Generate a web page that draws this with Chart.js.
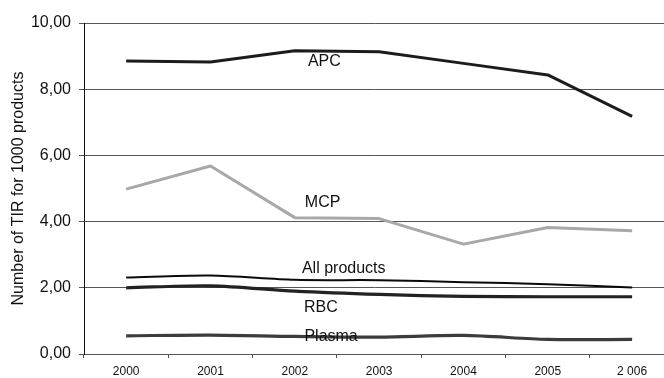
<!DOCTYPE html>
<html>
<head>
<meta charset="utf-8">
<script src="https://cdn.jsdelivr.net/npm/chart.js@4/dist/chart.umd.min.js"></script>
<style>
  html, body { margin: 0; padding: 0; background: #ffffff; }
  #wrap { width: 664px; height: 378px; }
</style>
</head>
<body>
<div id="wrap"><canvas id="c" width="664" height="378"></canvas></div>
<script>
// ---- data ----
const years = ['2000', '2001', '2002', '2003', '2004', '2005', '2 006'];
const apc = [8.85, 8.82, 9.16, 9.13, 8.78, 8.43, 7.18];
const mcp = [4.98, 5.68, 4.12, 4.09, 3.32, 3.82, 3.72];
const allProducts = [2.31, 2.37, 2.24, 2.23, 2.17, 2.11, 2.01];
const rbc = [2.00, 2.06, 1.90, 1.80, 1.74, 1.73, 1.73];
const plasma = [0.55, 0.57, 0.53, 0.51, 0.56, 0.44, 0.44];
const yTicks = [0, 2, 4, 6, 8, 10];
const yTitle = 'Number of TIR for 1000 products';
const seriesNames = ['APC', 'MCP', 'All products', 'RBC', 'Plasma'];

const toPoints = arr => arr.map((v, i) => ({ x: i, y: v }));
const FONT = "'Liberation Sans', Arial, sans-serif";

// in-chart series labels (placed in data units)
const seriesLabels = [
  { text: seriesNames[0], x: 2.35, y: 8.83 },
  { text: seriesNames[1], x: 2.33, y: 4.56 },
  { text: seriesNames[2], x: 2.58, y: 2.57 },
  { text: seriesNames[3], x: 2.31, y: 1.41 },
  { text: seriesNames[4], x: 2.43, y: 0.52 }
];

const labelPlugin = {
  id: 'seriesLabels',
  afterDatasetsDraw(chart) {
    const ctx = chart.ctx;
    const xs = chart.scales.x, ys = chart.scales.y;
    ctx.save();
    ctx.font = '16px ' + FONT;
    ctx.fillStyle = '#111';
    ctx.textAlign = 'center';
    ctx.textBaseline = 'middle';
    seriesLabels.forEach(l => {
      ctx.fillText(l.text, xs.getPixelForValue(l.x), ys.getPixelForValue(l.y));
    });
    ctx.restore();
  }
};

const mk = (label, data, color, width, tension) => ({
  label, data: toPoints(data), borderColor: color, backgroundColor: color,
  borderWidth: width, pointRadius: 0, tension, fill: false,
  borderCapStyle: 'butt', borderJoinStyle: 'round'
});

new Chart(document.getElementById('c'), {
  type: 'line',
  data: {
    datasets: [
      mk(seriesNames[0], apc, '#1c1c1c', 3, 0),
      mk(seriesNames[1], mcp, '#a8a8a8', 3, 0),
      mk(seriesNames[2], allProducts, '#0a0a0a', 2, 0.3),
      mk(seriesNames[3], rbc, '#222222', 3.2, 0.3),
      mk(seriesNames[4], plasma, '#3c3c3c', 3.2, 0.3)
    ]
  },
  options: {
    responsive: false,
    animation: false,
    layout: { padding: { top: 23, right: 0, bottom: 0, left: 0 } },
    plugins: { legend: { display: false }, tooltip: { enabled: false } },
    scales: {
      x: {
        type: 'linear',
        min: -0.5,
        max: 6.378,
        afterBuildTicks: s => { s.ticks = years.map((_, i) => ({ value: i })); },
        afterFit: s => { s.height = 24; },
        ticks: {
          autoSkip: false, maxRotation: 0, padding: 6,
          color: '#111', font: { family: FONT, size: 12 },
          callback: v => years[Math.round(v)] ?? ''
        },
        grid: {
          offset: true, drawOnChartArea: false, drawTicks: true,
          tickLength: 4, tickColor: '#555', color: '#555'
        },
        border: { display: true, color: '#555', width: 1 }
      },
      y: {
        min: 0, max: 10,
        afterBuildTicks: s => { s.ticks = yTicks.map(v => ({ value: v })); },
        afterFit: s => { s.width = 84; },
        ticks: {
          autoSkip: false, padding: 8, color: '#111',
          font: { family: FONT, size: 16 },
          callback: v => v.toFixed(2).replace('.', ',')
        },
        grid: { color: '#555', lineWidth: 1, tickLength: 5, tickColor: '#555' },
        border: { display: true, color: '#111', width: 1 },
        title: {
          display: true, text: yTitle, color: '#111',
          font: { family: FONT, size: 16 }, padding: { top: 9, bottom: 0 }
        }
      }
    }
  },
  plugins: [labelPlugin]
});
</script>
</body>
</html>
